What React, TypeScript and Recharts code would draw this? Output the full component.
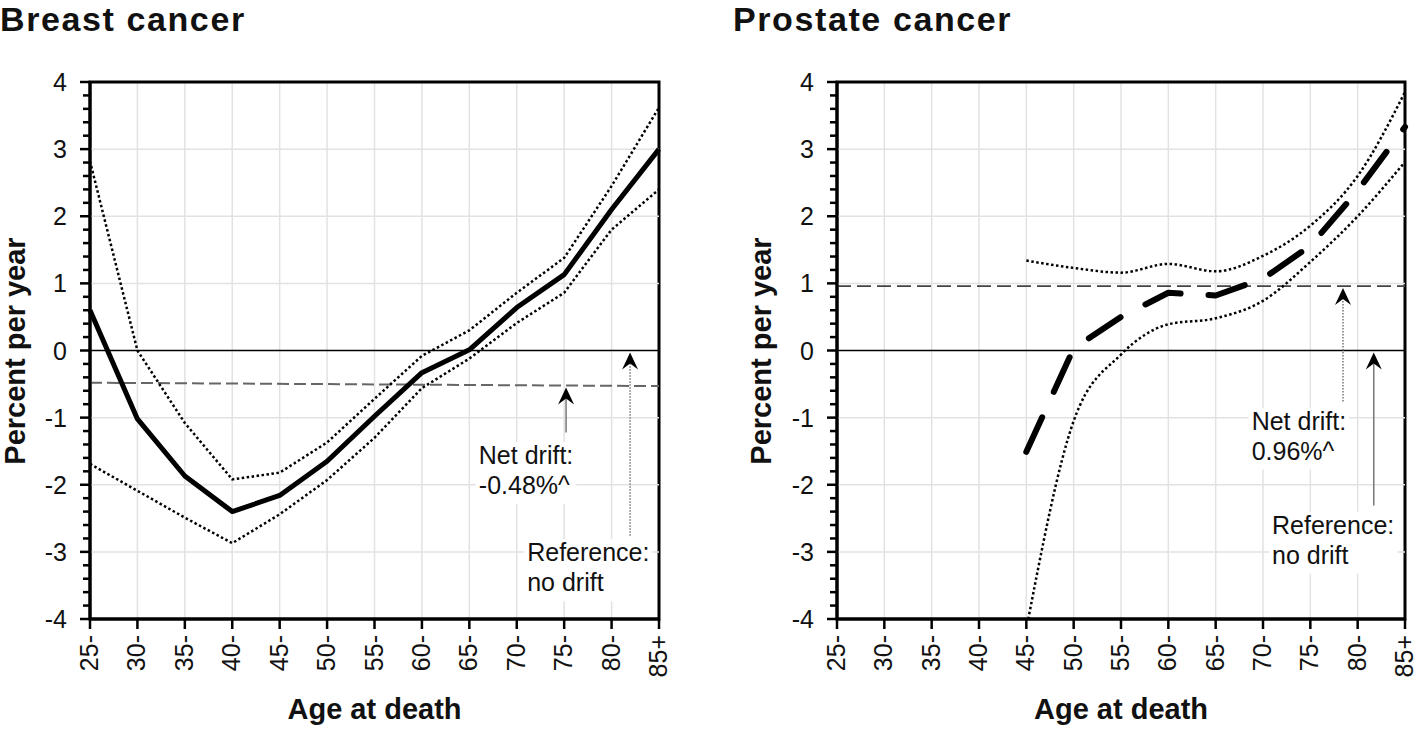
import React from 'react'
import { LineChart, Line, XAxis, YAxis, CartesianGrid, ReferenceLine, ReferenceArea, ReferenceDot } from 'recharts'

const FONT = '"Liberation Sans", Arial, sans-serif'

// age groups on the x axis (index 0..12)
const ages = ['25-', '30-', '35-', '40-', '45-', '50-', '55-', '60-', '65-', '70-', '75-', '80-', '85+']
const ageIdx = [0, 1, 2, 3, 4, 5, 6, 7, 8, 9, 10, 11, 12]

const yTicks = [
  -4, -3.8, -3.6, -3.4, -3.2, -3, -2.8, -2.6, -2.4, -2.2, -2, -1.8, -1.6, -1.4, -1.2, -1, -0.8, -0.6, -0.4, -0.2,
  0, 0.2, 0.4, 0.6, 0.8, 1, 1.2, 1.4, 1.6, 1.8, 2, 2.2, 2.4, 2.6, 2.8, 3, 3.2, 3.4, 3.6, 3.8, 4,
]
const gridY = [-3, -2, -1, 1, 2, 3]

// breast cancer local drift + 95% CI
const breastEst = [0.6, -1.02, -1.87, -2.4, -2.16, -1.65, -0.98, -0.33, 0.01, 0.64, 1.13, 2.1, 3.0]
const breastHi = [2.82, 0.0, -1.08, -1.92, -1.82, -1.37, -0.72, -0.08, 0.3, 0.86, 1.38, 2.45, 3.62]
const breastLo = [-1.69, -2.09, -2.49, -2.87, -2.44, -1.93, -1.3, -0.56, -0.12, 0.41, 0.86, 1.8, 2.4]
const breastDrift = [-0.48, -0.53] // net drift line, left end / right end

// prostate cancer local drift + 95% CI (no data below 45)
const prostateEst = [null, null, null, null, -1.51, 0.03, 0.5, 0.86, 0.82, 1.07, 1.56, 2.38, 3.33]
const prostateHi = [null, null, null, null, 1.34, 1.23, 1.16, 1.29, 1.18, 1.41, 1.86, 2.6, 3.85]
const prostateLo = [null, null, null, null, -4.15, -1.05, -0.06, 0.39, 0.48, 0.74, 1.32, 2.0, 2.81]
const prostateDrift = 0.96

const breastRows = ageIdx.map((i) => ({ idx: i, est: breastEst[i], hi: breastHi[i], lo: breastLo[i] }))
const prostateRows = ageIdx.map((i) => ({ idx: i, est: prostateEst[i], hi: prostateHi[i], lo: prostateLo[i] }))

// annotations: arrows (x index, from, to) and text blocks
const breastArrows = [
  { x: 10.04, from: -1.22, to: -0.55, dotted: false },
  { x: 11.39, from: -2.76, to: -0.03, dotted: true },
]
const breastNotes = [
  { x: 8.2, y: -1.69, lines: ['Net drift:', '-0.48%^'] },
  { x: 9.22, y: -3.14, lines: ['Reference:', 'no drift'] },
]
const prostateArrows = [
  { x: 10.69, from: -0.76, to: 0.93, dotted: true },
  { x: 11.34, from: -2.31, to: -0.03, dotted: false },
]
const prostateNotes = [
  { x: 8.76, y: -1.18, lines: ['Net drift:', '0.96%^'] },
  { x: 9.19, y: -2.73, lines: ['Reference:', 'no drift'] },
]

const NOTE_SIZE = 25

// rough text width for the white box behind a note
let measureCtx: CanvasRenderingContext2D | null = null
function textWidth(t: string) {
  if (!measureCtx) measureCtx = document.createElement('canvas').getContext('2d')
  if (!measureCtx) return t.length * NOTE_SIZE * 0.5
  measureCtx.font = `${NOTE_SIZE}px "Liberation Sans", Arial, sans-serif`
  return measureCtx.measureText(t).width
}

function YTick(props: any) {
  const { x, y, payload } = props
  const v = payload.value
  const major = Math.abs(v - Math.round(v)) < 1e-6
  const len = major ? 10 : 7
  return (
    <g>
      <line x1={x - len} x2={x} y1={y} y2={y} stroke="#000" strokeWidth={2.5} />
      {major && (
        <text x={x - 23} y={y} dy="0.36em" textAnchor="end" fontSize={25} fontFamily={FONT} fill="#111">
          {String(Math.round(v))}
        </text>
      )}
    </g>
  )
}

function XTick(props: any) {
  const { x, y, payload } = props
  return (
    <text x={x} y={y} dy="0.32em" transform={`rotate(-90 ${x} ${y})`} textAnchor="end" fontSize={25} fontFamily={FONT} fill="#111">
      {ages[payload.value]}
    </text>
  )
}

function Arrow(props: any) {
  const { x1, y1, x2, y2, dotted } = props
  return (
    <g>
      <line x1={x1} y1={y1} x2={x2} y2={y2 + 8} stroke="#777" strokeWidth={1.5} strokeDasharray={dotted ? '1.5 1.5' : undefined} />
      <path d={`M${x2},${y2} L${x2 - 8},${y2 + 17} L${x2},${y2 + 11} L${x2 + 8},${y2 + 17} Z`} fill="#000" />
    </g>
  )
}

function Note(props: any) {
  const { cx, cy, lines } = props
  const w = Math.max(...lines.map((t: string) => textWidth(t)))
  return (
    <g>
      <rect x={cx - 3} y={cy - 22} width={w + 6} height={62} fill="#fff" />
      {lines.map((t: string, i: number) => (
        <text key={i} x={cx} y={cy + i * 30} fontSize={NOTE_SIZE} fontFamily={FONT} fill="#111">
          {t}
        </text>
      ))}
    </g>
  )
}

function Panel(props: any) {
  const { rows, marginLeft, marginRight, dashedMain, curve, driftSegment, driftY, driftStroke, arrows, notes } = props
  return (
    <LineChart width={708} height={730} data={rows} margin={{ top: 82, right: marginRight, bottom: 51, left: marginLeft }}>
      <CartesianGrid horizontal={false} stroke="#e2e2e2" strokeWidth={1.5} />
      {gridY.map((v) => (
        <ReferenceLine key={v} y={v} stroke="#e2e2e2" strokeWidth={1.5} />
      ))}
      <XAxis
        dataKey="idx"
        type="number"
        domain={[0, 12]}
        ticks={ageIdx}
        interval={0}
        height={60}
        tickSize={10}
        tickMargin={6}
        tick={<XTick />}
        tickLine={{ stroke: '#000', strokeWidth: 2.5 }}
        axisLine={{ stroke: '#000', strokeWidth: 3 }}
      />
      <YAxis
        type="number"
        domain={[-4, 4]}
        ticks={yTicks}
        interval={0}
        allowDataOverflow
        width={60}
        tickSize={0}
        tickMargin={0}
        tickLine={false}
        tick={<YTick />}
        axisLine={{ stroke: '#000', strokeWidth: 3 }}
      />
      <ReferenceLine y={0} stroke="#000" strokeWidth={1.5} />
      {driftSegment ? (
        <ReferenceLine segment={driftSegment} stroke={driftStroke} strokeWidth={2} strokeDasharray="12 5" />
      ) : (
        <ReferenceLine y={driftY} stroke={driftStroke} strokeWidth={1.8} strokeDasharray="14 6" />
      )}
      <Line type={curve} dataKey="hi" stroke="#000" strokeWidth={2.5} strokeDasharray="2.5 2.5" dot={false} isAnimationActive={false} />
      <Line type={curve} dataKey="lo" stroke="#000" strokeWidth={2.5} strokeDasharray="2.5 2.5" dot={false} isAnimationActive={false} />
      <Line
        type="linear"
        dataKey="est"
        stroke="#000"
        strokeWidth={dashedMain ? 6 : 5}
        strokeDasharray={dashedMain ? '38 28' : undefined}
        strokeLinecap={dashedMain ? 'round' : 'butt'}
        strokeLinejoin="round"
        dot={false}
        isAnimationActive={false}
      />
      {notes.map((n: any, i: number) => (
        <ReferenceDot key={'n' + i} x={n.x} y={n.y} r={0} shape={(p: any) => <Note {...p} lines={n.lines} />} />
      ))}
      {arrows.map((a: any, i: number) => (
        <ReferenceLine
          key={'a' + i}
          segment={[{ x: a.x, y: a.from }, { x: a.x, y: a.to }]}
          shape={(p: any) => <Arrow {...p} dotted={a.dotted} />}
        />
      ))}
      <ReferenceArea x1={0} x2={12} y1={-4} y2={4} fill="none" stroke="#000" strokeWidth={3} />
    </LineChart>
  )
}

export default function App() {
  return (
    <div style={{ position: 'absolute', left: 0, top: 0, width: 1416, height: 730, background: '#fff', fontFamily: FONT }}>
      <div style={{ position: 'absolute', left: 0, top: 0 }}>
        <Panel
          rows={breastRows}
          marginLeft={30}
          marginRight={49}
          dashedMain={false}
          curve="linear"
          driftSegment={[{ x: 0, y: breastDrift[0] }, { x: 12, y: breastDrift[1] }]}
          driftStroke="#666"
          arrows={breastArrows}
          notes={breastNotes}
        />
      </div>
      <div style={{ position: 'absolute', left: 708, top: 0 }}>
        <Panel
          rows={prostateRows}
          marginLeft={69}
          marginRight={11}
          dashedMain={true}
          curve="monotone"
          driftY={prostateDrift}
          driftStroke="#444"
          arrows={prostateArrows}
          notes={prostateNotes}
        />
      </div>
      <svg width={1416} height={730} style={{ position: 'absolute', left: 0, top: 0, pointerEvents: 'none' }}>
        <text x={0} y={31} fontSize={34} fontWeight="bold" letterSpacing={1.6} fontFamily={FONT} fill="#111">Breast cancer</text>
        <text x={733} y={31} fontSize={34} fontWeight="bold" letterSpacing={1.6} fontFamily={FONT} fill="#111">Prostate cancer</text>
        <text x={25} y={351} transform="rotate(-90 25 351)" textAnchor="middle" fontSize={29} fontWeight="bold" fontFamily={FONT} fill="#111">Percent per year</text>
        <text x={771} y={351} transform="rotate(-90 771 351)" textAnchor="middle" fontSize={29} fontWeight="bold" fontFamily={FONT} fill="#111">Percent per year</text>
        <text x={374.5} y={719} textAnchor="middle" fontSize={29} fontWeight="bold" fontFamily={FONT} fill="#111">Age at death</text>
        <text x={1121} y={719} textAnchor="middle" fontSize={29} fontWeight="bold" fontFamily={FONT} fill="#111">Age at death</text>
      </svg>
    </div>
  )
}
